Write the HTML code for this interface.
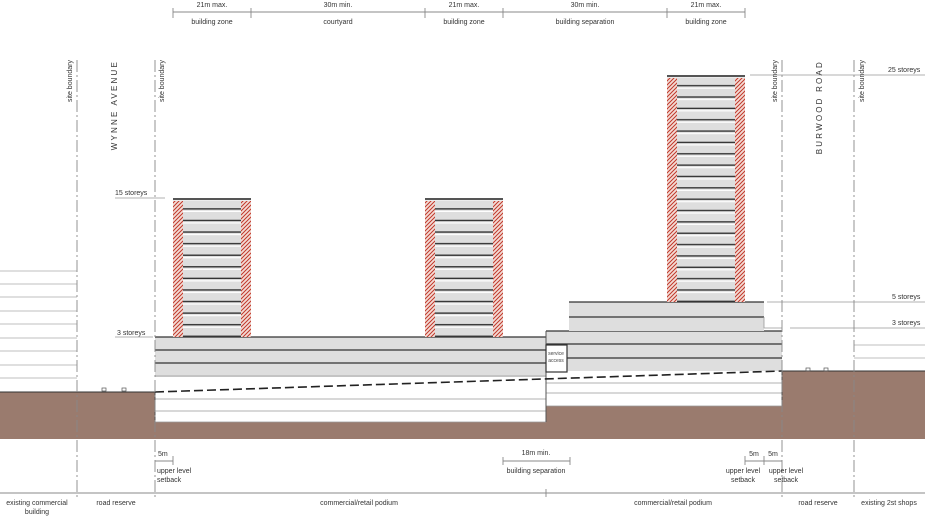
<!DOCTYPE html>
<html><head><meta charset="utf-8"><style>
html,body{margin:0;padding:0;background:#fff}
svg{display:block;font-family:"Liberation Sans",sans-serif}
</style></head><body>
<svg width="925" height="518" viewBox="0 0 925 518" xmlns="http://www.w3.org/2000/svg">
<defs>
<pattern id="fl1" patternUnits="userSpaceOnUse" x="0" y="198" width="10" height="11.58">
<rect width="10" height="11.58" fill="#dedede"/><rect y="1.2" width="10" height="1.2" fill="#fff"/><rect y="10.2" width="10" height="1.4" fill="#333"/></pattern>
<pattern id="fl3" patternUnits="userSpaceOnUse" x="0" y="75" width="10" height="11.35">
<rect width="10" height="11.35" fill="#dedede"/><rect y="1.2" width="10" height="1.2" fill="#fff"/><rect y="10" width="10" height="1.35" fill="#333"/></pattern>
<pattern id="hat" patternUnits="userSpaceOnUse" width="4" height="4">
<rect width="4" height="4" fill="#f3dcd6"/><path d="M-1,5 L5,-1 M-1,1 L1,-1 M3,5 L5,3" stroke="#c0392b" stroke-width="1"/></pattern>
</defs>

<!-- ground -->
<rect x="0" y="392" width="155" height="47" fill="#9a7b6e"/>
<rect x="155" y="422" width="391" height="17" fill="#9a7b6e"/>
<rect x="546" y="406" width="236" height="33" fill="#9a7b6e"/>
<rect x="782" y="371" width="143" height="68" fill="#9a7b6e"/>
<line x1="0" y1="392" x2="155" y2="392" stroke="#333" stroke-width="1"/>
<line x1="782" y1="371" x2="925" y2="371" stroke="#333" stroke-width="1"/>
<rect x="102" y="388" width="4" height="3" fill="none" stroke="#555" stroke-width="0.7"/>
<rect x="122" y="388" width="4" height="3" fill="none" stroke="#555" stroke-width="0.7"/>
<rect x="806" y="368" width="4" height="3" fill="none" stroke="#555" stroke-width="0.7"/>
<rect x="824" y="368" width="4" height="3" fill="none" stroke="#555" stroke-width="0.7"/>

<!-- existing left building -->
<g stroke="#aaa" stroke-width="0.8">
<line x1="0" y1="271" x2="77" y2="271"/><line x1="0" y1="284" x2="77" y2="284"/><line x1="0" y1="297" x2="77" y2="297"/><line x1="0" y1="311" x2="77" y2="311"/><line x1="0" y1="324" x2="77" y2="324"/><line x1="0" y1="338" x2="77" y2="338"/><line x1="0" y1="351" x2="77" y2="351"/><line x1="0" y1="365" x2="77" y2="365"/><line x1="0" y1="378" x2="77" y2="378"/>
<line x1="854" y1="345" x2="925" y2="345"/><line x1="854" y1="358" x2="925" y2="358"/>
</g>

<!-- left podium -->
<rect x="155" y="337" width="391" height="55" fill="#dedede"/>
<rect x="155" y="377" width="391" height="45" fill="#fff"/>
<g stroke="#333" stroke-width="1.3"><line x1="155" y1="337" x2="546" y2="337"/><line x1="155" y1="350" x2="546" y2="350"/><line x1="155" y1="363" x2="546" y2="363"/></g>
<g stroke="#999" stroke-width="0.8"><line x1="155" y1="376" x2="546" y2="376"/><line x1="155" y1="399" x2="546" y2="399"/><line x1="155" y1="411" x2="546" y2="411"/><line x1="155" y1="422" x2="546" y2="422"/></g>
<line x1="155" y1="392" x2="155" y2="422" stroke="#555" stroke-width="1"/>

<!-- right podium -->
<rect x="546" y="331" width="236" height="40" fill="#dedede"/>
<rect x="546" y="371" width="236" height="35" fill="#fff"/>
<g stroke="#333" stroke-width="1.3"><line x1="546" y1="331" x2="782" y2="331"/><line x1="546" y1="344" x2="782" y2="344"/><line x1="546" y1="358" x2="782" y2="358"/></g>
<g stroke="#999" stroke-width="0.8"><line x1="546" y1="383" x2="782" y2="383"/><line x1="546" y1="393" x2="782" y2="393"/><line x1="546" y1="406" x2="782" y2="406"/></g>
<line x1="546" y1="331" x2="546" y2="422" stroke="#555" stroke-width="1"/>
<line x1="782" y1="371" x2="782" y2="406" stroke="#555" stroke-width="1"/>
<rect x="546" y="345" width="21" height="27" fill="#fff" stroke="#333" stroke-width="1.2"/>
<text x="556" y="355" font-size="5" text-anchor="middle" fill="#444">service</text>
<text x="556" y="362" font-size="5" text-anchor="middle" fill="#444">access</text>

<!-- upper step block -->
<rect x="569" y="302" width="195" height="29" fill="#dedede"/>
<g stroke="#333" stroke-width="1.3"><line x1="569" y1="302" x2="764" y2="302"/><line x1="569" y1="317" x2="764" y2="317"/></g>
<polyline points="764,317 764,328 782,328" fill="none" stroke="#999" stroke-width="0.8"/>

<!-- dashed ground line -->
<line x1="155" y1="392" x2="782" y2="371" stroke="#222" stroke-width="1.6" stroke-dasharray="9,4"/>

<!-- towers -->
<rect x="173" y="198" width="78" height="139" fill="url(#fl1)"/>
<rect x="173" y="198" width="78" height="2" fill="#555"/>
<rect x="173" y="201" width="10" height="136" fill="url(#hat)"/><rect x="241" y="201" width="10" height="136" fill="url(#hat)"/>
<rect x="425" y="198" width="78" height="139" fill="url(#fl1)"/>
<rect x="425" y="198" width="78" height="2" fill="#555"/>
<rect x="425" y="201" width="10" height="136" fill="url(#hat)"/><rect x="493" y="201" width="10" height="136" fill="url(#hat)"/>
<rect x="667" y="75" width="78" height="227" fill="url(#fl3)"/>
<rect x="667" y="75" width="78" height="2" fill="#555"/>
<rect x="667" y="78" width="10" height="224" fill="url(#hat)"/><rect x="735" y="78" width="10" height="224" fill="url(#hat)"/>

<!-- level lines -->
<g stroke="#999" stroke-width="0.8">
<line x1="115" y1="198" x2="165" y2="198"/>
<line x1="750" y1="75" x2="925" y2="75"/>
<line x1="767" y1="302" x2="925" y2="302"/>
<line x1="790" y1="328" x2="925" y2="328"/>
<line x1="115" y1="337" x2="153" y2="337"/>
</g>
<g font-size="7" fill="#333">
<text x="115" y="195">15 storeys</text>
<text x="117" y="335">3 storeys</text>
<text x="888" y="72">25 storeys</text>
<text x="892" y="299">5 storeys</text>
<text x="892" y="325">3 storeys</text>
</g>

<!-- boundary lines -->
<g stroke="#888" stroke-width="0.9" stroke-dasharray="12,3,2,3">
<line x1="77" y1="60" x2="77" y2="500"/><line x1="155" y1="60" x2="155" y2="500"/>
<line x1="782" y1="60" x2="782" y2="500"/><line x1="854" y1="60" x2="854" y2="500"/>
</g>
<g font-size="7" fill="#333">
<text transform="translate(72,60) rotate(-90)" text-anchor="end">site boundary</text>
<text transform="translate(164,60) rotate(-90)" text-anchor="end">site boundary</text>
<text transform="translate(777,60) rotate(-90)" text-anchor="end">site boundary</text>
<text transform="translate(864,60) rotate(-90)" text-anchor="end">site boundary</text>
<text transform="translate(117,60) rotate(-90)" text-anchor="end" font-size="8" letter-spacing="2.2">WYNNE AVENUE</text>
<text transform="translate(822,60) rotate(-90)" text-anchor="end" font-size="8" letter-spacing="2.2">BURWOOD ROAD</text>
</g>

<!-- top dims -->
<g stroke="#888" stroke-width="0.9">
<line x1="173" y1="12" x2="745" y2="12"/>
<line x1="173" y1="8" x2="173" y2="18"/><line x1="251" y1="8" x2="251" y2="18"/><line x1="425" y1="8" x2="425" y2="18"/><line x1="503" y1="8" x2="503" y2="18"/><line x1="667" y1="8" x2="667" y2="18"/><line x1="745" y1="8" x2="745" y2="18"/>
</g>
<g font-size="7" fill="#333" text-anchor="middle">
<text x="212" y="7">21m max.</text><text x="212" y="24">building zone</text>
<text x="338" y="7">30m min.</text><text x="338" y="24">courtyard</text>
<text x="464" y="7">21m max.</text><text x="464" y="24">building zone</text>
<text x="585" y="7">30m min.</text><text x="585" y="24">building separation</text>
<text x="706" y="7">21m max.</text><text x="706" y="24">building zone</text>
</g>

<!-- bottom dims -->
<g stroke="#888" stroke-width="0.9">
<line x1="155" y1="461" x2="173" y2="461"/><line x1="173" y1="456" x2="173" y2="465"/>
<line x1="503" y1="461" x2="570" y2="461"/><line x1="503" y1="457" x2="503" y2="465"/><line x1="570" y1="457" x2="570" y2="465"/>
<line x1="745" y1="461" x2="782" y2="461"/><line x1="745" y1="456" x2="745" y2="465"/><line x1="764" y1="456" x2="764" y2="465"/>
<line x1="0" y1="493" x2="925" y2="493"/><line x1="546" y1="489" x2="546" y2="497"/>
</g>
<g font-size="7" fill="#333">
<text x="158" y="456">5m</text>
<text x="157" y="473">upper level</text><text x="157" y="482">setback</text>
<text x="536" y="455" text-anchor="middle">18m min.</text>
<text x="536" y="473" text-anchor="middle">building separation</text>
<text x="754" y="456" text-anchor="middle">5m</text><text x="773" y="456" text-anchor="middle">5m</text>
<text x="743" y="473" text-anchor="middle">upper level</text><text x="743" y="482" text-anchor="middle">setback</text>
<text x="786" y="473" text-anchor="middle">upper level</text><text x="786" y="482" text-anchor="middle">setback</text>
<g text-anchor="middle">
<text x="37" y="505">existing commercial</text><text x="37" y="514">building</text>
<text x="116" y="505">road reserve</text>
<text x="359" y="505">commercial/retail podium</text>
<text x="673" y="505">commercial/retail podium</text>
<text x="818" y="505">road reserve</text>
<text x="889" y="505">existing 2st shops</text>
</g>
</g>
</svg>
</body></html>
